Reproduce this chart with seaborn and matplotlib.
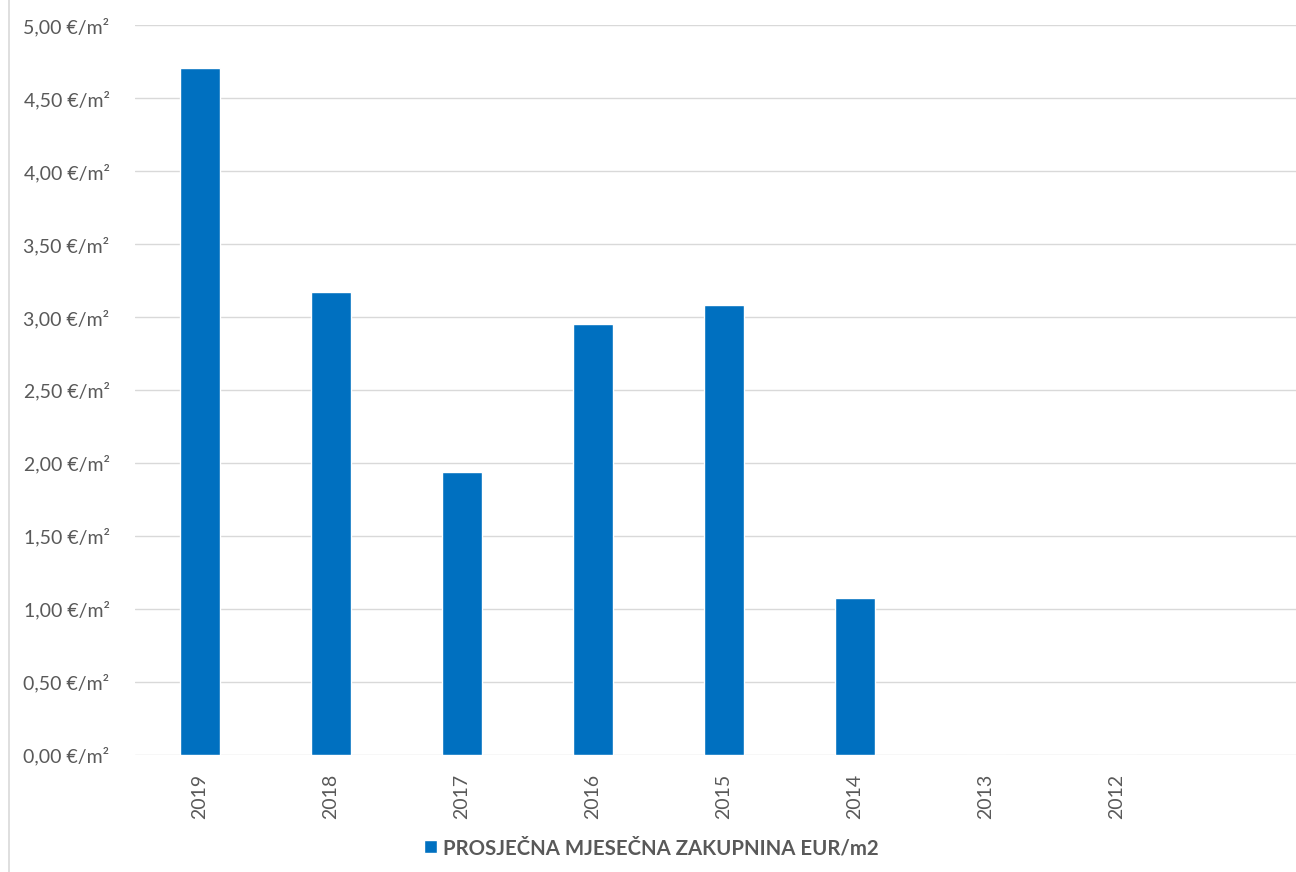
import matplotlib
matplotlib.use("Agg")
import matplotlib.pyplot as plt
from matplotlib.lines import Line2D
from matplotlib.ticker import FuncFormatter
import seaborn as sns
import pandas as pd

years = ["2019", "2018", "2017", "2016", "2015", "2014", "2013", "2012"]
values = [4.71, 3.17, 1.94, 2.95, 3.08, 1.07, 0.0, 0.0]
series_name = "PROSJEČNA MJESEČNA ZAKUPNINA EUR/m2"
y_ticks = [0.0, 0.5, 1.0, 1.5, 2.0, 2.5, 3.0, 3.5, 4.0, 4.5, 5.0]

df = pd.DataFrame({"year": years, "value": values, "series": series_name})

sns.set_theme(style="white")
plt.rcParams["font.family"] = ["Lato", "DejaVu Sans"]

fig = plt.figure(figsize=(12.96, 8.72), dpi=100)
ax = fig.add_axes([134.5 / 1296, 117.5 / 872, 1 - 134.5 / 1296, (754.5 - 25.5) / 872])

sns.barplot(data=df, x="year", y="value", hue="series", order=years,
            palette=["#0070C0"], width=0.31, ax=ax, legend=True, saturation=1)

ax.set_ylim(0, 5)
ax.set_xlim(-0.5, (1296 - 134.5) / 131 - 0.5)
ax.set_yticks(y_ticks)
ax.yaxis.set_major_formatter(FuncFormatter(lambda v, p: f"{v:.2f}".replace(".", ",") + " €/m²"))
ax.grid(axis="y", color="#D9D9D9", linewidth=1.0)
ax.set_axisbelow(True)
for s in ax.spines.values():
    s.set_visible(False)
ax.set_xlabel("")
ax.set_ylabel("")
ax.tick_params(axis="y", length=0, pad=18, labelsize=14, labelcolor="#595959")
ax.tick_params(axis="x", length=0, pad=14, labelsize=14, labelcolor="#595959", labelrotation=90)

sns.move_legend(ax, "center", bbox_to_anchor=(651.5 / 1296, 1 - 848 / 872),
                bbox_transform=fig.transFigure, frameon=False, title=None,
                handlelength=0.6, handleheight=0.6, handletextpad=0.3,
                prop={"size": 14.7, "weight": "bold"})
for t in ax.get_legend().get_texts():
    t.set_color("#595959")

fig.add_artist(Line2D([9 / 1296, 9 / 1296], [0, 1], transform=fig.transFigure,
                      color="#D9D9D9", linewidth=1.2))

fig.savefig("out.png", dpi=100)
